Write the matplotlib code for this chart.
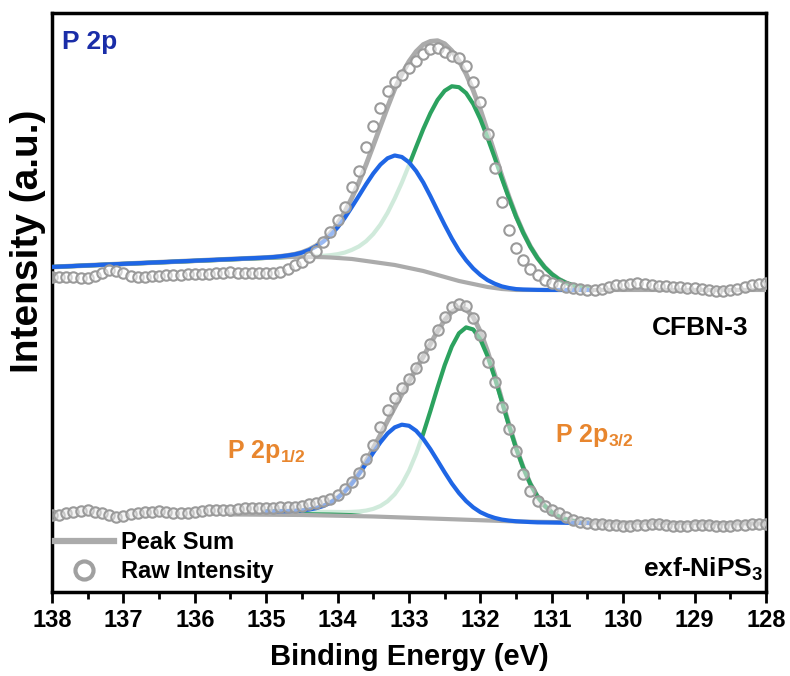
import numpy as np
import matplotlib
matplotlib.use('agg')
import matplotlib.pyplot as plt
from matplotlib.lines import Line2D
from matplotlib.ticker import MultipleLocator

plt.rcParams['font.family'] = ['Liberation Sans', 'DejaVu Sans']
plt.rcParams['font.weight'] = 'bold'
plt.rcParams['mathtext.default'] = 'regular'

# raw spectra, 138 -> 128 eV in 0.1 eV steps (intensity in arbitrary offset units)
raw_E = np.round(np.arange(138.0, 127.95, -0.1), 1)
raw_cfbn = [315, 315, 315, 315, 314, 314, 316, 319, 322, 321,
            319, 316, 315, 315, 316, 316, 317, 317, 317, 318,
            318, 318, 318, 319, 319, 320, 319, 319, 319, 319,
            319, 319, 320, 323, 327, 330, 335, 341, 350, 360,
            372, 385, 405, 421, 445, 466, 484, 501, 510, 517,
            524, 531, 538, 543, 544, 540, 536, 534, 526, 510,
            490, 458, 424, 390, 362, 344, 332, 323, 317, 312,
            309, 307, 305, 304, 303, 302, 302, 303, 305, 307,
            307, 308, 309, 308, 307, 306, 306, 305, 305, 304,
            304, 303, 302, 301, 301, 302, 303, 305, 307, 308,
            309]
raw_exf = [77, 77, 79, 80, 81, 82, 80, 79, 77, 75,
           76, 78, 79, 80, 80, 81, 80, 79, 79, 79,
           80, 81, 82, 82, 82, 82, 83, 84, 84, 84,
           84, 84, 85, 85, 85, 86, 88, 89, 91, 93,
           97, 103, 110, 119, 133, 147, 165, 182, 194, 204,
           213, 224, 235, 248, 262, 275, 285, 288, 286, 274,
           257, 230, 210, 185, 163, 141, 118, 101, 91, 86,
           82, 79, 75, 72, 70, 69, 68, 68, 67, 67,
           66, 66, 67, 67, 68, 68, 67, 66, 66, 66,
           67, 67, 67, 66, 66, 66, 67, 67, 68, 68,
           68]

# fitted curves, 135.0 -> 130.5 eV in 0.1 eV steps
fit_E = np.round(np.arange(135.0, 130.45, -0.1), 1)
top_E = np.concatenate([[138.0], fit_E])
bg_E = np.concatenate([[138.0], fit_E, [128.0]])

top_bg = [325, 334.1, 334.4, 334.7, 335, 335, 335, 335, 335, 334.8, 334.5,
          334, 333.5, 333, 332, 331, 330, 329, 328, 327, 325.5,
          324, 322.5, 321, 319, 317, 315, 313, 311, 309.5, 308,
          306.5, 305, 304, 303, 302.5, 302, 302, 302, 302, 302,
          302, 302, 302, 302, 302, 302, 302]
top_blue = [325, 334.4, 334.9, 335.6, 336.5, 337.6, 339.3, 341.9, 345.5, 350.3, 356.7,
            364.5, 374.0, 385.0, 396.3, 407.8, 418.5, 427.4, 433.7, 436.5, 435.0,
            429.7, 420.9, 409.5, 395.8, 381.3, 367.0, 353.5, 341.5, 331.7, 323.5,
            317.0, 311.9, 308.3, 305.6, 304.0, 302.9, 302.5, 302.3, 302.1, 302,
            302, 302, 302, 302, 302, 302]
top_green = [325, 334.1, 334.4, 334.7, 335.0, 335.1, 335.3, 335.5, 335.8, 336.2, 336.8,
             337.8, 339.4, 342.1, 345.6, 350.8, 358.0, 367.4, 379.2, 393.5, 409.3,
             426.8, 445.0, 462.9, 478.8, 492.0, 501.2, 505.7, 504.8, 498.9, 488.0,
             472.8, 454.3, 434.4, 413.6, 393.8, 375.2, 359.1, 345.2, 333.9, 324.8,
             317.9, 312.7, 309.1, 306.5, 304.8, 303.7]
top_sum = [325, 334.4, 334.9, 335.6, 336.5, 337.7, 339.6, 342.4, 346.3, 351.7, 359.0,
           368.3, 379.9, 394.1, 409.9, 427.6, 446.5, 465.8, 484.9, 503.0, 517.8,
           530.5, 540.4, 547.4, 550.6, 551.3, 548.2, 541.2, 531.3, 518.1, 501.5,
           482.3, 460.7, 438.7, 416.2, 395.3, 376.1, 359.6, 345.5, 334.0, 324.8,
           317.9, 312.7, 309.1, 306.5, 304.8, 303.7]

bot_base = [80.5, 80.5, 80.5, 80.5, 80.5, 80.4, 80.3, 80.2, 80.1, 80.0,
            79.8, 79.6, 79.4, 79.2, 79.0, 78.7, 78.4, 78.1, 77.8, 77.5,
            77.1, 76.6, 76.1, 75.6, 75.1, 74.6, 74.0, 73.5, 73.0, 72.5,
            72.0, 71.6, 71.2, 70.8, 70.5, 70.2, 70.0, 69.8, 69.6, 69.5,
            69.4, 69.3, 69.2, 69.1, 69.0, 69.0]
bot_blue = [80.5, 80.6, 80.7, 80.8, 81.1, 81.5, 82.4, 83.8, 86.0, 89.4,
            94.0, 100.3, 108.3, 117.8, 128.4, 139.4, 149.7, 158.5, 164.6, 167.3,
            166.2, 161.2, 153.1, 142.8, 131.3, 119.6, 108.5, 98.9, 90.9, 84.6,
            79.8, 76.5, 74.1, 72.4, 71.4, 70.7, 70.3, 69.9, 69.6, 69.5,
            69.4, 69.3, 69.2, 69.1, 69.0, 69.0]
bot_green = [80.5, 80.5, 80.5, 80.5, 80.5, 80.4, 80.3, 80.2, 80.1, 80.1,
             80.0, 79.9, 80.1, 80.5, 81.4, 83.1, 86.0, 90.7, 97.7, 107.8,
             121.2, 138.2, 158.4, 181.0, 204.5, 226.8, 245.5, 258.7, 264.6, 262.5,
             252.5, 235.9, 214.6, 190.6, 166.5, 143.9, 124.2, 108.0, 95.4, 86.2,
             79.7, 75.4, 72.7, 71.0, 70.0, 69.5]
bot_sum = [80.5, 80.6, 80.7, 80.8, 81.1, 81.5, 82.4, 83.8, 86.0, 89.4,
           94.2, 100.6, 109.0, 119.1, 130.8, 143.8, 157.3, 171.1, 184.5, 197.6,
           210.3, 222.8, 235.4, 248.2, 260.7, 271.8, 280.0, 284.1, 282.5, 275.1,
           260.3, 240.8, 217.5, 192.2, 167.4, 144.4, 124.5, 108.1, 95.4, 86.2,
           79.7, 75.4, 72.7, 71.0, 70.0, 69.5]
bot_bg_E = [135.5, 134.5, 133.5, 132.5, 131.5, 130.5, 128.0]
bot_bg = [77.5, 77.0, 75.5, 73.0, 70.5, 69.5, 68.5]

c_blue = '#1f66e5'
c_green = '#2ca25f'
c_gray = '#ababab'
c_orange = '#e8862e'

fig = plt.figure(figsize=(7.9, 6.76), dpi=100)
ax = fig.add_axes([0.0658, 0.1243, 0.9038, 0.8565])

def panel(E, blue, green, total, raw, fill_base, E_bg, bg_line, face):
    ax.plot(E, total, color=c_gray, lw=3.5, zorder=2)
    ax.plot(E, green, color=c_green, lw=3, zorder=3)
    # white veil over the 2p1/2 area makes the hidden part of 2p3/2 look pale
    ax.fill_between(E, fill_base, blue, color='white', alpha=0.78, lw=0, zorder=4)
    ax.plot(E_bg, bg_line, color=c_gray, lw=3, zorder=4.5)
    ax.plot(E, blue, color=c_blue, lw=3, zorder=5)
    ax.plot(raw_E, raw, ls='none', marker='o', ms=7.5, mfc=face, mec='#9a9a9a', mew=1.5, zorder=6)

panel(top_E, top_blue, top_green, top_sum, raw_cfbn, top_bg[:-1], bg_E, top_bg, (1, 1, 1, 0.55))
panel(fit_E, bot_blue, bot_green, bot_sum, raw_exf, bot_base, bot_bg_E, bot_bg, (0.92, 0.92, 0.92, 0.55))

ax.set_xlim(138, 128)
ax.set_ylim(0, 579)
ax.set_yticks([])
ax.xaxis.set_major_locator(MultipleLocator(1))
ax.xaxis.set_minor_locator(MultipleLocator(0.5))
ax.tick_params(axis='x', which='major', direction='out', length=8, width=2, pad=4)
ax.tick_params(axis='x', which='minor', direction='out', length=5, width=2)
for sp in ax.spines.values():
    sp.set_linewidth(2.5)
for lab in ax.get_xticklabels():
    lab.set_family(['Liberation Sans Narrow', 'Liberation Sans'])
    lab.set_fontsize(17)
    lab.set_fontweight('bold')

ax.set_xlabel('Binding Energy (eV)', fontsize=21, fontweight='bold', labelpad=8)
ax.set_ylabel('Intensity (a.u.)', fontsize=28, fontweight='bold')
ax.yaxis.set_label_coords(-0.009, 0.605)

ax.text(137.86, 543, 'P 2p', color='#1a2da8', fontsize=19, fontweight='bold')
ax.text(128.25, 257, 'CFBN-3', color='black', fontsize=19, fontweight='bold', ha='right')
ax.text(128.04, 15, 'exf-NiPS$_3$', color='black', fontsize=19, fontweight='bold', ha='right')
ax.text(135.55, 134, 'P 2p$_{1/2}$', color=c_orange, fontsize=18, fontweight='bold')
ax.text(130.95, 150, 'P 2p$_{3/2}$', color=c_orange, fontsize=18, fontweight='bold')

handles = [Line2D([], [], color=c_gray, lw=4.5),
           Line2D([], [], ls='none', marker='o', ms=13, mfc='white', mec='#a0a0a0', mew=3)]
ax.legend(handles, ['Peak Sum', 'Raw Intensity'], loc='lower left', frameon=False,
          bbox_to_anchor=(-0.013, -0.005), handlelength=2.5,
          handletextpad=0.3, labelspacing=0.25, borderaxespad=0.1,
          prop={'weight': 'bold', 'size': 17})

fig.savefig('out.png', dpi=100)
